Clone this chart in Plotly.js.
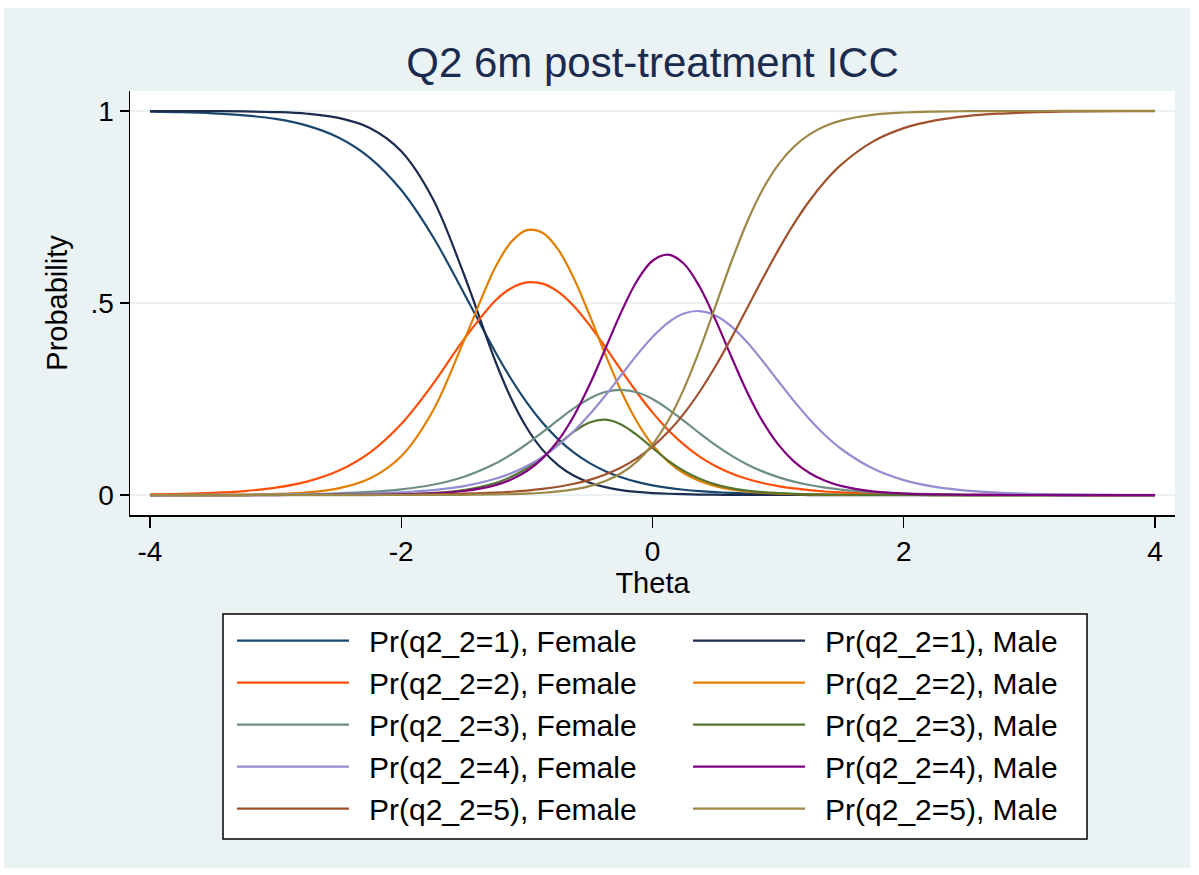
<!DOCTYPE html>
<html><head><meta charset="utf-8">
<script src="https://cdn.plot.ly/plotly-3.0.1.min.js"></script>
<style>
html,body{margin:0;padding:0;background:#ffffff;}
#chart{position:absolute;left:4px;top:8px;width:1186px;height:860px;}
</style>
</head><body>
<div id="chart"></div>
<script>
// Theta grid and curve values
const theta = [-4,-3.75,-3.5,-3.25,-3,-2.75,-2.5,-2.25,-2,-1.75,-1.5,-1.25,-1.125,-1,-0.875,-0.75,-0.625,-0.5,-0.375,-0.25,-0.125,0,0.125,0.25,0.375,0.5,0.625,0.75,0.875,1,1.125,1.25,1.375,1.5,1.75,2,2.25,2.5,2.75,3,3.25,3.5,3.75,4];

const female1 = [0.9983,0.9968,0.9939,0.9887,0.9792,0.9618,0.9309,0.8781,0.7941,0.6737,0.5250,0.3717,0.3020,0.2405,0.1881,0.1449,0.1103,0.0832,0.0622,0.0463,0.0343,0.0253,0.0187,0.0137,0.0101,0.0074,0.0054,0.0040,0.0029,0.0021,0.0016,0.0011,0.0008,0.0006,0.0003,0.0002,0.0001,0,0,0,0,0,0,0];
const female2 = [0.0016,0.0030,0.0056,0.0103,0.0191,0.0350,0.0631,0.1106,0.1851,0.2881,0.4059,0.5064,0.5386,0.5536,0.5503,0.5288,0.4914,0.4418,0.3849,0.3254,0.2677,0.2152,0.1694,0.1312,0.1002,0.0758,0.0568,0.0423,0.0314,0.0232,0.0171,0.0126,0.0092,0.0068,0.0036,0.0020,0.0011,0.0006,0.0003,0.0002,0.0001,0,0,0];
const female3 = [0.0001,0.0002,0.0004,0.0007,0.0012,0.0023,0.0043,0.0080,0.0147,0.0267,0.0477,0.0821,0.1055,0.1329,0.1635,0.1955,0.2261,0.2516,0.2684,0.2740,0.2675,0.2498,0.2237,0.1930,0.1610,0.1306,0.1034,0.0804,0.0616,0.0467,0.0350,0.0261,0.0194,0.0143,0.0078,0.0042,0.0022,0.0012,0.0007,0.0003,0.0002,0.0001,0,0];
const female4 = [0,0.0001,0.0002,0.0003,0.0006,0.0011,0.0020,0.0037,0.0068,0.0126,0.0232,0.0423,0.0566,0.0754,0.0994,0.1296,0.1665,0.2101,0.2593,0.3118,0.3642,0.4115,0.4491,0.4725,0.4790,0.4676,0.4399,0.3990,0.3497,0.2970,0.2451,0.1973,0.1555,0.1205,0.0697,0.0389,0.0213,0.0116,0.0062,0.0033,0.0018,0.0010,0.0005,0.0003];
const female5 = [0,0,0,0,0.0001,0.0001,0.0003,0.0005,0.0010,0.0018,0.0034,0.0063,0.0086,0.0117,0.0159,0.0216,0.0293,0.0396,0.0534,0.0716,0.0953,0.1259,0.1645,0.2121,0.2689,0.3346,0.4073,0.4844,0.5622,0.6370,0.7058,0.7663,0.8176,0.8597,0.9196,0.9553,0.9756,0.9868,0.9929,0.9962,0.9980,0.9989,0.9994,0.9997];

const male1 = [0.9999,0.9998,0.9995,0.9989,0.9971,0.9928,0.9819,0.9557,0.8953,0.7723,0.5735,0.3477,0.2513,0.1745,0.1175,0.0773,0.0501,0.0322,0.0205,0.0130,0.0082,0.0052,0.0033,0.0021,0.0013,0.0008,0.0005,0.0003,0.0002,0.0001,0.0001,0,0,0,0,0,0,0,0,0,0,0,0,0];
const male2 = [0.0001,0.0002,0.0004,0.0011,0.0028,0.0070,0.0174,0.0428,0.1008,0.2180,0.4024,0.5936,0.6586,0.6896,0.6827,0.6387,0.5635,0.4678,0.3659,0.2710,0.1916,0.1307,0.0868,0.0566,0.0365,0.0233,0.0148,0.0094,0.0059,0.0037,0.0024,0.0015,0.0009,0.0006,0.0002,0.0001,0,0,0,0,0,0,0,0];
const male3 = [0,0,0,0,0.0001,0.0001,0.0003,0.0009,0.0021,0.0053,0.0131,0.0313,0.0473,0.0696,0.0985,0.1322,0.1651,0.1890,0.1961,0.1837,0.1564,0.1225,0.0898,0.0626,0.0422,0.0278,0.0180,0.0116,0.0074,0.0047,0.0030,0.0019,0.0012,0.0007,0.0003,0.0001,0,0,0,0,0,0,0,0];
const male4 = [0,0,0,0,0,0.0001,0.0003,0.0007,0.0017,0.0042,0.0105,0.0259,0.0404,0.0625,0.0954,0.1424,0.2065,0.2877,0.3810,0.4756,0.5567,0.6100,0.6261,0.6022,0.5423,0.4573,0.3619,0.2703,0.1923,0.1318,0.0877,0.0574,0.0370,0.0237,0.0095,0.0038,0.0015,0.0006,0.0002,0.0001,0,0,0,0];
const male5 = [0,0,0,0,0,0,0,0,0.0001,0.0002,0.0006,0.0015,0.0024,0.0037,0.0059,0.0094,0.0148,0.0233,0.0365,0.0567,0.0871,0.1316,0.1940,0.2765,0.3777,0.4908,0.6048,0.7084,0.7942,0.8597,0.9069,0.9392,0.9609,0.9750,0.9899,0.9960,0.9984,0.9994,0.9998,0.9999,1,1,1,1];

const labelsFemale = ["Pr(q2_2=1), Female","Pr(q2_2=2), Female","Pr(q2_2=3), Female","Pr(q2_2=4), Female","Pr(q2_2=5), Female"];
const labelsMale = ["Pr(q2_2=1), Male","Pr(q2_2=2), Male","Pr(q2_2=3), Male","Pr(q2_2=4), Male","Pr(q2_2=5), Male"];
const xTickVals = [-4,-2,0,2,4];
const xTickText = ["-4","-2","0","2","4"];
const yTickVals = [0,0.5,1];
const yTickText = ["0",".5","1"];

const femaleSeries = [female1,female2,female3,female4,female5];
const maleSeries = [male1,male2,male3,male4,male5];
const femaleColors = ["#1a476f","#ff4d0a","#6e8e84","#938dd2","#a0522d"];
const maleColors = ["#1c2b50","#e37e00","#55752f","#800080","#9c8847"];

const traces = [];
for (let i = 0; i < 5; i++) {
  traces.push({x: theta, y: femaleSeries[i], type: "scatter", mode: "lines", name: labelsFemale[i],
    line: {color: femaleColors[i], width: 2.2, shape: "spline", smoothing: 1}, legend: "legend", hoverinfo: "skip"});
  traces.push({x: theta, y: maleSeries[i], type: "scatter", mode: "lines", name: labelsMale[i],
    line: {color: maleColors[i], width: 2.2, shape: "spline", smoothing: 1}, legend: "legend2", hoverinfo: "skip"});
}

const font = "Liberation Sans, Arial, Helvetica, sans-serif";
const legendCommon = {xanchor: "left", yanchor: "top", xref: "paper", yref: "paper",
  bgcolor: "rgba(0,0,0,0)", borderwidth: 0, font: {size: 30, color: "#000"},
  tracegroupgap: 0, traceorder: "normal", itemwidth: 127};

const layout = {
  width: 1186, height: 860,
  paper_bgcolor: "#eaf2f3",
  plot_bgcolor: "#ffffff",
  margin: {l: 126, r: 15, t: 83, b: 353},
  font: {family: font, color: "#000000"},
  title: {text: "Q2 6m post-treatment ICC", font: {family: font, size: 42, color: "#1a2b4f"},
          x: 0.5, xref: "paper", xanchor: "center", y: 0.937, yref: "container", yanchor: "middle"},
  xaxis: {range: [-4.159, 4.159], tickvals: xTickVals, ticktext: xTickText, ticks: "outside", ticklen: 11, tickwidth: 1.2, tickcolor: "#000",
          showgrid: false, zeroline: false, showline: true, linecolor: "#000", linewidth: 1.5,
          tickfont: {size: 28, color: "#000"},
          title: {text: "Theta", font: {size: 29, color: "#000"}, standoff: 6}},
  yaxis: {range: [-0.052, 1.052], tickvals: yTickVals, ticktext: yTickText, ticks: "outside", ticklen: 9, tickwidth: 1.2, tickcolor: "#000",
          showgrid: true, gridcolor: "#eaf2f3", gridwidth: 2, zeroline: false, showline: true, linecolor: "#000", linewidth: 1.5,
          tickfont: {size: 28, color: "#000"},
          title: {text: "Probability", font: {size: 29, color: "#000"}, standoff: 14}},
  showlegend: true,
  legend: Object.assign({x: 0.0976, y: -0.235}, legendCommon),
  legend2: Object.assign({x: 0.534, y: -0.235}, legendCommon),
  shapes: [{type: "rect", xref: "paper", yref: "paper", x0: 0.089, x1: 0.9158, y0: -0.764, y1: -0.2335,
            line: {color: "#000", width: 1.5}, fillcolor: "#ffffff", layer: "below"}]
};

function longLegendLines() {
  document.querySelectorAll("#chart .legendlines path").forEach(function (p) {
    p.setAttribute("d", "M5,0h112");
  });
}

Plotly.newPlot("chart", traces, layout, {displayModeBar: false, staticPlot: true}).then(function (gd) {
  longLegendLines();
  gd.on("plotly_afterplot", longLegendLines);
});
</script>
</body></html>
